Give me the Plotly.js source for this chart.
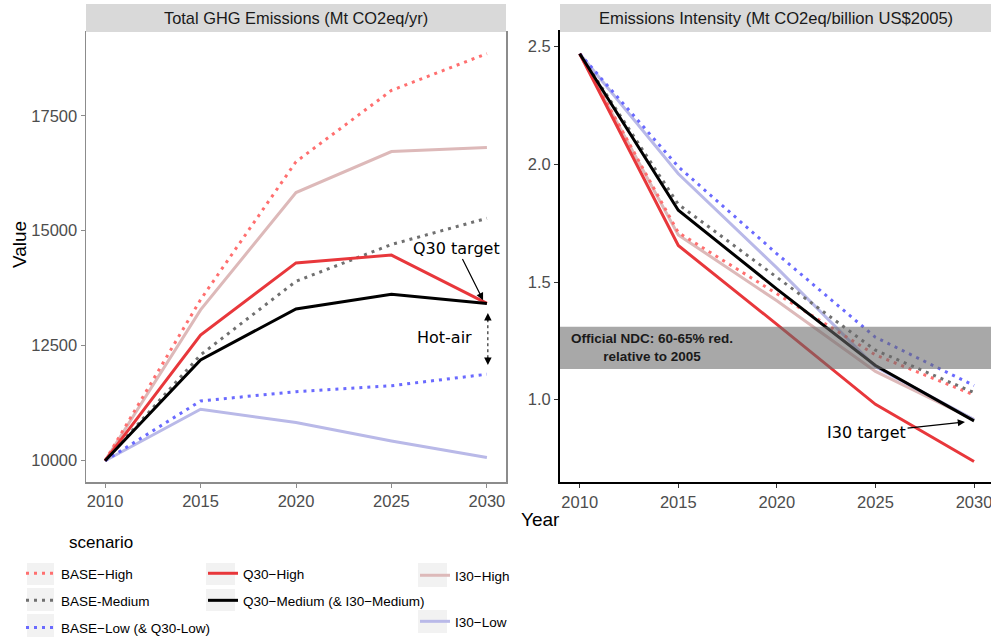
<!DOCTYPE html>
<html>
<head>
<meta charset="utf-8">
<script src="https://cdn.plot.ly/plotly-3.0.1.min.js"></script>
<style>body{margin:0;background:#fff}#chart{width:991px;height:638px}</style>
</head>
<body>
<div id="chart"></div>
<script>
const years = [2010, 2015, 2020, 2025, 2030];

// Total GHG emissions (Mt CO2eq/yr)
const ghgBaseHigh = [10000, 13500, 16500, 18050, 18850];
const ghgBaseMed  = [10000, 12300, 13900, 14700, 15270];
const ghgBaseLow  = [10000, 11300, 11500, 11630, 11880];
const ghgQ30High  = [10000, 12730, 14300, 14470, 13420];
const ghgQ30Med   = [10000, 12190, 13300, 13620, 13420];
const ghgI30High  = [10000, 13280, 15830, 16720, 16810];
const ghgI30Low   = [10000, 11120, 10830, 10430, 10070];

// Emissions intensity (Mt CO2eq / billion US$2005)
const intBaseHigh = [2.47, 1.71, 1.45, 1.19, 1.02];
const intBaseMed  = [2.47, 1.83, 1.52, 1.21, 1.03];
const intBaseLow  = [2.47, 1.99, 1.62, 1.265, 1.06];
const intQ30High  = [2.47, 1.655, 1.32, 0.98, 0.737];
const intQ30Med   = [2.47, 1.805, 1.47, 1.145, 0.91];
const intI30High  = [2.47, 1.70, 1.42, 1.12, 0.915];
const intI30Low   = [2.47, 1.96, 1.56, 1.14, 0.915];

// official NDC range (60-65% below 2005)
const ndcBand = [1.13, 1.31];
// hot-air gap at 2030 (between Q30 target and BASE-Low)
const hotAir = [12078, 13211];

const yearTicks = [2010, 2015, 2020, 2025, 2030];
const ghgTicks = [10000, 12500, 15000, 17500];
const intTicks = [1.0, 1.5, 2.0, 2.5];

// pixel -> paper helpers (plot area 86..991 x 32..482)
const L = 86, T = 32, W = 905, H = 450;
const px = v => (v - L) / W;
const py = v => (T + H - v) / H;

const DOT = '3px,5px';
const scenarios = [
  {name: 'I30\u2212High', ghg: ghgI30High, int: intI30High, color: '#ddb9b9', dash: 'solid', legend: 'legend3', rank: 1},
  {name: 'I30\u2212Low', ghg: ghgI30Low, int: intI30Low, color: '#b9b9e8', dash: 'solid', legend: 'legend3', rank: 2},
  {name: 'BASE\u2212High', ghg: ghgBaseHigh, int: intBaseHigh, color: '#ff6f6f', dash: DOT, legend: 'legend', rank: 1},
  {name: 'BASE-Medium', ghg: ghgBaseMed, int: intBaseMed, color: '#707070', dash: DOT, legend: 'legend', rank: 2},
  {name: 'BASE\u2212Low (& Q30-Low)', ghg: ghgBaseLow, int: intBaseLow, color: '#6a6aff', dash: DOT, legend: 'legend', rank: 3},
  {name: 'Q30\u2212High', ghg: ghgQ30High, int: intQ30High, color: '#e8373b', dash: 'solid', legend: 'legend2', rank: 1},
  {name: 'Q30\u2212Medium (& I30\u2212Medium)', ghg: ghgQ30Med, int: intQ30Med, color: '#000000', dash: 'solid', legend: 'legend2', rank: 2}
];

let data = [];
scenarios.forEach(s => {
  data.push({
    x: years, y: s.ghg, xaxis: 'x', yaxis: 'y', type: 'scatter', mode: 'lines',
    name: s.name, legend: s.legend, legendrank: s.rank, legendgroup: s.name,
    line: {color: s.color, width: 3, dash: s.dash}, hoverinfo: 'skip'
  });
  data.push({
    x: years, y: s.int, xaxis: 'x2', yaxis: 'y2', type: 'scatter', mode: 'lines',
    name: s.name, showlegend: false, legendgroup: s.name,
    line: {color: s.color, width: 3, dash: s.dash}, hoverinfo: 'skip'
  });
});

const tickFont = {family: 'Liberation Sans, Arial, sans-serif', size: 16.5, color: '#4d4d4d'};
const noteFont = {family: 'DejaVu Sans, sans-serif', size: 16, color: '#000'};
const legFont = {family: 'Liberation Sans, Arial, sans-serif', size: 13.5, color: '#000'};

function keyBox(x0, x1, y0, y1) {
  return {type: 'rect', xref: 'paper', yref: 'paper', x0: px(x0), x1: px(x1), y0: py(y1), y1: py(y0),
          fillcolor: '#f2f2f2', line: {width: 0}, layer: 'below'};
}

function legendAt(x, y, gap) {
  return {x: px(x), y: py(y), xanchor: 'left', yanchor: 'top', orientation: 'v',
          bgcolor: 'rgba(0,0,0,0)', font: legFont, traceorder: 'grouped', tracegroupgap: gap};
}

const layout = {
  width: 991, height: 638,
  margin: {l: L, r: 0, t: T, b: 638 - T - H, autoexpand: false},
  paper_bgcolor: '#fff', plot_bgcolor: '#fff',
  font: {family: 'Liberation Sans, Arial, sans-serif'},
  xaxis: {domain: [0, px(506)], range: [2009, 2031], tickvals: yearTicks, ticks: 'outside', ticklen: 4,
          tickcolor: '#8c8c8c', tickfont: tickFont, showgrid: false, zeroline: false,
          showline: true, linecolor: '#8c8c8c', linewidth: 1.5, mirror: true, anchor: 'y'},
  yaxis: {range: [9537, 19320], tickvals: ghgTicks, tickformat: 'd', ticks: 'outside', ticklen: 4,
          tickcolor: '#8c8c8c', tickfont: tickFont, showgrid: false, zeroline: false,
          showline: true, linecolor: '#8c8c8c', linewidth: 1.5, mirror: true, anchor: 'x'},
  xaxis2: {domain: [px(560), 1], range: [2009, 2030.86], tickvals: yearTicks, ticks: 'outside', ticklen: 4,
           tickcolor: '#333', tickfont: tickFont, showgrid: false, zeroline: false, ticklabeloverflow: 'allow',
           showline: true, linecolor: '#000', linewidth: 2, mirror: true, anchor: 'y2'},
  yaxis2: {range: [0.65, 2.5625], tickvals: intTicks, tickformat: '.1f', ticks: 'outside', ticklen: 4,
           tickcolor: '#333', tickfont: tickFont, showgrid: false, zeroline: false,
           showline: true, linecolor: '#000', linewidth: 2, mirror: true, anchor: 'x2'},
  showlegend: true,
  legend: legendAt(21, 558, 6.5),
  legend2: legendAt(203, 558, 6.5),
  legend3: legendAt(415, 560, 25.5),
  shapes: [
    {type: 'rect', xref: 'paper', yref: 'paper', x0: 0, x1: px(506), y0: 1, y1: py(4),
     fillcolor: '#d9d9d9', line: {width: 0}},
    {type: 'rect', xref: 'paper', yref: 'paper', x0: px(560), x1: 1, y0: 1, y1: py(4),
     fillcolor: '#d9d9d9', line: {width: 0}},
    {type: 'rect', xref: 'x2 domain', yref: 'y2', x0: 0, x1: 1, y0: ndcBand[0], y1: ndcBand[1],
     fillcolor: 'rgba(105,105,105,0.58)', line: {width: 0}, layer: 'above'},
    {type: 'line', xref: 'x', yref: 'y', x0: 2030.05, x1: 2030.05, y0: hotAir[0] + 150, y1: hotAir[1] - 150,
     line: {color: '#000', width: 1, dash: 'dot'}},
    keyBox(27, 54, 563, 585), keyBox(27, 54, 588, 611), keyBox(27, 54, 614, 637),
    keyBox(206, 235, 563, 585), keyBox(206, 235, 589, 611),
    keyBox(418, 447, 563, 587), keyBox(418, 447, 610, 633)
  ],
  annotations: [
    {text: 'Total GHG Emissions (Mt CO2eq/yr)', xref: 'paper', yref: 'paper', x: px(296), y: py(18),
     xanchor: 'center', yanchor: 'middle', showarrow: false, font: {size: 16.4, color: '#1a1a1a'}},
    {text: 'Emissions Intensity (Mt CO2eq/billion US$2005)', xref: 'paper', yref: 'paper', x: px(776), y: py(18),
     xanchor: 'center', yanchor: 'middle', showarrow: false, font: {size: 16.6, color: '#1a1a1a'}},
    {text: 'Value', xref: 'paper', yref: 'paper', x: px(19), y: py(245), textangle: -90,
     xanchor: 'center', yanchor: 'middle', showarrow: false, font: {size: 19, color: '#000'}},
    {text: 'Year', xref: 'paper', yref: 'paper', x: px(540), y: py(519),
     xanchor: 'center', yanchor: 'middle', showarrow: false, font: {size: 19, color: '#000'}},
    {text: 'scenario', xref: 'paper', yref: 'paper', x: px(67), y: py(542),
     xanchor: 'left', yanchor: 'middle', showarrow: false, font: {size: 17, color: '#000'}},
    {text: '<b>Official NDC: 60-65% red.<br>relative to 2005</b>', xref: 'x2', yref: 'y2',
     x: 2013.66, y: (ndcBand[0] + ndcBand[1]) / 2, showarrow: false, align: 'center',
     font: {size: 13.5, color: '#1a1a1a'}},
    {text: 'Q30 target', xref: 'x', yref: 'y', x: 2029.8, y: 13490, axref: 'x', ayref: 'y',
     ax: 2028.43, ay: 14624, showarrow: true, arrowhead: 2, arrowsize: 1.2, arrowwidth: 1.2,
     arrowcolor: '#000', font: noteFont},
    {text: '', xref: 'x', yref: 'y', x: 2030.05, y: hotAir[1], axref: 'x', ayref: 'y',
     ax: 2030.05, ay: hotAir[1] - 200, showarrow: true, arrowhead: 2, arrowsize: 1.5,
     arrowwidth: 1, arrowcolor: '#000'},
    {text: '', xref: 'x', yref: 'y', x: 2030.05, y: hotAir[0], axref: 'x', ayref: 'y',
     ax: 2030.05, ay: hotAir[0] + 200, showarrow: true, arrowhead: 2, arrowsize: 1.5,
     arrowwidth: 1, arrowcolor: '#000'},
    {text: 'Hot-air', xref: 'x', yref: 'y', x: 2027.77, y: 12670, showarrow: false, font: noteFont},
    {text: 'I30 target', xref: 'x2', yref: 'y2', x: 2029.54, y: 0.905, axref: 'x2', ayref: 'y2',
     ax: 2024.55, ay: 0.86, showarrow: true, arrowhead: 2, arrowsize: 1.2, arrowwidth: 1.2,
     arrowcolor: '#000', font: noteFont}
  ]
};

Plotly.newPlot('chart', data, layout, {displayModeBar: false, staticPlot: true});
</script>
</body>
</html>
